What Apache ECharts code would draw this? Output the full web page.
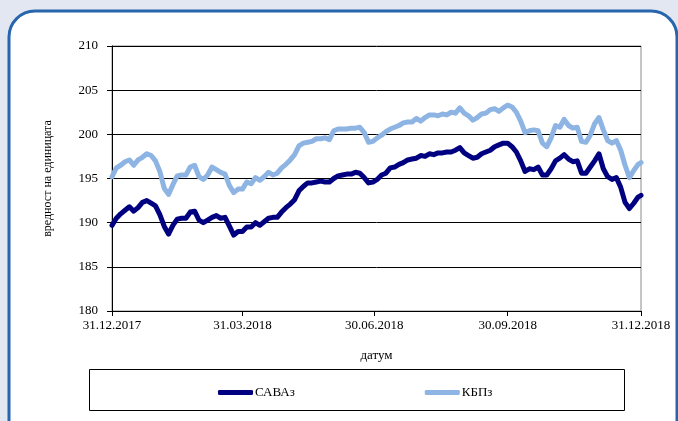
<!DOCTYPE html>
<html>
<head>
<meta charset="utf-8">
<script src="https://cdn.jsdelivr.net/npm/echarts@6/dist/echarts.min.js"></script>
<style>
html, body { margin: 0; padding: 0; background: #e2e7f1; }
#chart { width: 678px; height: 421px; }
</style>
</head>
<body>
<div id="chart"></div>
<script>
// dates every 3 days through 2018
const dates = [
    '2017-12-31',
    '2018-01-03', '2018-01-06', '2018-01-09', '2018-01-12', '2018-01-15', '2018-01-18', '2018-01-21', '2018-01-24', '2018-01-27', '2018-01-30',
    '2018-02-02', '2018-02-05', '2018-02-08', '2018-02-11', '2018-02-14', '2018-02-17', '2018-02-20', '2018-02-23', '2018-02-26',
    '2018-03-01', '2018-03-04', '2018-03-07', '2018-03-10', '2018-03-13', '2018-03-16', '2018-03-19', '2018-03-22', '2018-03-25', '2018-03-28', '2018-03-31',
    '2018-04-03', '2018-04-06', '2018-04-09', '2018-04-12', '2018-04-15', '2018-04-18', '2018-04-21', '2018-04-24', '2018-04-27', '2018-04-30',
    '2018-05-03', '2018-05-06', '2018-05-09', '2018-05-12', '2018-05-15', '2018-05-18', '2018-05-21', '2018-05-24', '2018-05-27', '2018-05-30',
    '2018-06-02', '2018-06-05', '2018-06-08', '2018-06-11', '2018-06-14', '2018-06-17', '2018-06-20', '2018-06-23', '2018-06-26', '2018-06-29',
    '2018-07-02', '2018-07-05', '2018-07-08', '2018-07-11', '2018-07-14', '2018-07-17', '2018-07-20', '2018-07-23', '2018-07-26', '2018-07-29',
    '2018-08-01', '2018-08-04', '2018-08-07', '2018-08-10', '2018-08-13', '2018-08-16', '2018-08-19', '2018-08-22', '2018-08-25', '2018-08-28', '2018-08-31',
    '2018-09-03', '2018-09-06', '2018-09-09', '2018-09-12', '2018-09-15', '2018-09-18', '2018-09-21', '2018-09-24', '2018-09-27', '2018-09-30',
    '2018-10-03', '2018-10-06', '2018-10-09', '2018-10-12', '2018-10-15', '2018-10-18', '2018-10-21', '2018-10-24', '2018-10-27', '2018-10-30',
    '2018-11-02', '2018-11-05', '2018-11-08', '2018-11-11', '2018-11-14', '2018-11-17', '2018-11-20', '2018-11-23', '2018-11-26', '2018-11-29',
    '2018-12-02', '2018-12-05', '2018-12-08', '2018-12-11', '2018-12-14', '2018-12-17', '2018-12-20', '2018-12-23', '2018-12-26', '2018-12-29',
    '2018-12-31'
]

const savaz = [
    189.7,
    190.5, 191.0, 191.4, 191.8, 191.3, 191.7, 192.3, 192.5, 192.2, 191.9,
    190.9, 189.6, 188.7, 189.7, 190.4, 190.5, 190.5, 191.2, 191.3,
    190.3, 190.0, 190.3, 190.6, 190.8, 190.5, 190.6, 189.6, 188.6, 189.0, 189.0,
    189.5, 189.5, 190.0, 189.7, 190.1, 190.5, 190.6, 190.6, 191.2, 191.7,
    192.1, 192.6, 193.6, 194.1, 194.5, 194.5, 194.6, 194.7, 194.6, 194.6,
    195.0, 195.3, 195.4, 195.5, 195.5, 195.7, 195.6, 195.1, 194.5, 194.6,
    194.9, 195.4, 195.6, 196.2, 196.3, 196.6, 196.8, 197.1, 197.2, 197.3,
    197.6, 197.5, 197.8, 197.7, 197.9, 197.9, 198.0, 198.0, 198.2, 198.5, 197.9,
    197.6, 197.3, 197.4, 197.8, 198.0, 198.2, 198.6, 198.8, 199.0, 199.0,
    198.6, 198.0, 197.0, 195.8, 196.1, 196.0, 196.3, 195.4, 195.4, 196.1,
    197.0, 197.3, 197.7, 197.2, 196.9, 197.0, 195.6, 195.6, 196.3, 197.0,
    197.8, 196.1, 195.2, 194.9, 195.1, 194.0, 192.3, 191.6, 192.2, 192.9,
    193.1
]

const kbpz = [
    195.2,
    196.2, 196.5, 196.9, 197.1, 196.5, 197.1, 197.4, 197.8, 197.6, 197.0,
    195.8, 193.9, 193.2, 194.3, 195.3, 195.4, 195.4, 196.3, 196.5,
    195.2, 194.9, 195.4, 196.3, 196.0, 195.7, 195.5, 194.2, 193.4, 193.8, 193.8,
    194.6, 194.4, 195.1, 194.8, 195.2, 195.7, 195.4, 195.6, 196.2, 196.6,
    197.1, 197.7, 198.7, 199.0, 199.1, 199.2, 199.5, 199.5, 199.6, 199.4,
    200.4, 200.6, 200.6, 200.6, 200.7, 200.7, 200.8, 200.2, 199.1, 199.2,
    199.6, 199.9, 200.3, 200.6, 200.8, 201.0, 201.3, 201.4, 201.4, 201.8,
    201.5, 201.9, 202.2, 202.2, 202.1, 202.3, 202.2, 202.5, 202.4, 203.0, 202.4,
    202.1, 201.6, 201.9, 202.3, 202.4, 202.8, 202.9, 202.6, 203.0, 203.3,
    203.1, 202.5, 201.5, 200.2, 200.4, 200.5, 200.4, 199.0, 198.6, 199.6,
    201.0, 200.8, 201.7, 201.0, 200.7, 200.8, 199.2, 199.1, 199.9, 201.2,
    201.9, 200.5, 199.3, 199.0, 199.3, 198.2, 196.5, 195.1, 195.9, 196.6,
    196.8
]

const xTickDates = ['2017-12-31', '2018-03-31', '2018-06-30', '2018-09-30', '2018-12-31']

const FONT = 'Liberation Serif'

function toTime(s) {
    const p = s.split('-')
    return new Date(+p[0], +p[1] - 1, +p[2]).getTime()
}
function pad(n) {
    return n < 10 ? '0' + n : '' + n
}

const tickValues = xTickDates.map(toTime)
const myChart = echarts.init(document.getElementById('chart'))

const option = {
    animation: false,
    backgroundColor: 'transparent',
    textStyle: { fontFamily: FONT },
    graphic: [
        {
            type: 'rect',
            z: -10,
            shape: { x: 9, y: 11, width: 668, height: 440, r: 26 },
            style: { fill: '#fff', stroke: '#2766ac', lineWidth: 3 }
        },
        {
            type: 'rect',
            z: -5,
            shape: { x: 89.5, y: 369.5, width: 535, height: 41 },
            style: { fill: 'none', stroke: '#000', lineWidth: 1 }
        }
    ],
    grid: {
        left: 112,
        right: 37,
        top: 46,
        bottom: 110,
        show: true,
        borderColor: '#8a8a8a',
        borderWidth: 1
    },
    legend: {
        left: 213,
        top: 381,
        itemWidth: 35,
        itemHeight: 5,
        itemGap: 130,
        icon: 'roundRect',
        textStyle: { fontFamily: FONT, fontSize: 13, color: '#000', padding: [0, 0, 0, -3] },
        data: ['САВАз', 'КБПз']
    },
    xAxis: {
        type: 'value',
        min: tickValues[0],
        max: tickValues[tickValues.length - 1],
        name: 'датум',
        nameLocation: 'middle',
        nameGap: 38,
        nameTextStyle: { fontFamily: FONT, fontSize: 13, color: '#000' },
        axisLine: { lineStyle: { color: '#000', width: 1 } },
        axisTick: {
            show: true,
            length: 5,
            customValues: tickValues,
            lineStyle: { color: '#000' }
        },
        axisLabel: {
            customValues: tickValues,
            margin: 8,
            fontFamily: FONT,
            fontSize: 13,
            color: '#000',
            formatter: function (v) {
                const d = new Date(v)
                return pad(d.getDate()) + '.' + pad(d.getMonth() + 1) + '.' + d.getFullYear()
            }
        },
        splitLine: { show: false }
    },
    yAxis: {
        type: 'value',
        min: 180,
        max: 210,
        interval: 5,
        name: 'вредност на единицата',
        nameLocation: 'middle',
        nameGap: 58,
        nameMoveOverlap: false,
        nameRotate: 90,
        nameTextStyle: { fontFamily: FONT, fontSize: 12, color: '#000' },
        axisLine: { show: true, lineStyle: { color: '#000', width: 1 } },
        axisTick: { show: true, length: 5, lineStyle: { color: '#000' } },
        axisLabel: { margin: 14, fontFamily: FONT, fontSize: 13, color: '#000' },
        splitLine: { lineStyle: { color: '#000', width: 1 } }
    },
    series: [
        {
            name: 'САВАз',
            type: 'line',
            showSymbol: false,
            symbol: 'none',
            data: dates.map((d, i) => [toTime(d), savaz[i]]),
            itemStyle: { color: '#000080' },
            lineStyle: { color: '#000080', width: 5, join: 'round', cap: 'round' },
            z: 3
        },
        {
            name: 'КБПз',
            type: 'line',
            showSymbol: false,
            symbol: 'none',
            data: dates.map((d, i) => [toTime(d), kbpz[i]]),
            itemStyle: { color: '#8db4e2' },
            lineStyle: { color: '#8db4e2', width: 5, join: 'round', cap: 'round' },
            z: 2
        }
    ]
}

myChart.setOption(option)
window.addEventListener('resize', () => myChart.resize())
</script>
</body>
</html>
